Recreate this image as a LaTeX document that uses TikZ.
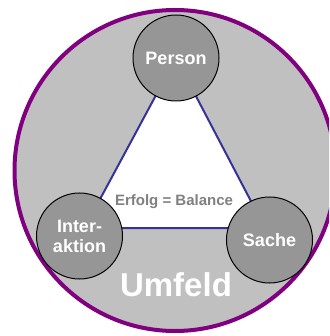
\documentclass[tikz,border=0pt]{standalone}
\usepackage{fontspec}
\setmainfont{Liberation Sans}
\begin{document}
\definecolor{envfill}{HTML}{C0C0C0}
\definecolor{envline}{HTML}{800080}
\definecolor{partfill}{HTML}{969696}
\definecolor{edgeblue}{HTML}{333399}
\definecolor{balgrey}{HTML}{808080}
\begin{tikzpicture}[x=1pt,y=-1pt,
  part/.style={circle,draw=black,line width=1pt,fill=partfill,minimum size=86pt,inner sep=0pt,
    text=white,font=\fontsize{18}{20}\selectfont\bfseries,align=center},
  edge/.style={draw=edgeblue,line width=2pt,line join=round}]
\useasboundingbox (0,0) rectangle (329,336);
\clip (0,0) rectangle (329,336);
% surrounding environment
\draw[envline,line width=4pt,fill=envfill] (175,170.5) circle[radius=160.5];
% triangle of balance
\coordinate (tA) at (176,58);
\coordinate (tB) at (84.5,228);
\coordinate (tC) at (265,228);
\draw[edge,fill=white] (tA) -- (tB) -- (tC) -- cycle;
\node[text=balgrey,font=\fontsize{15}{17}\selectfont\bfseries] (bal) at (174,202) {Erfolg = Balance};
% the three parts
\node[part] (person) at (176,58) {Person};
\node[part] (inter) at (79.5,236) {Inter-\\aktion};
\node[part] (sache) at (269.5,240) {Sache};
\node[text=white,font=\fontsize{33}{36}\selectfont\bfseries] (umfeld) at (176,285) {Umfeld};
\end{tikzpicture}
\end{document}
